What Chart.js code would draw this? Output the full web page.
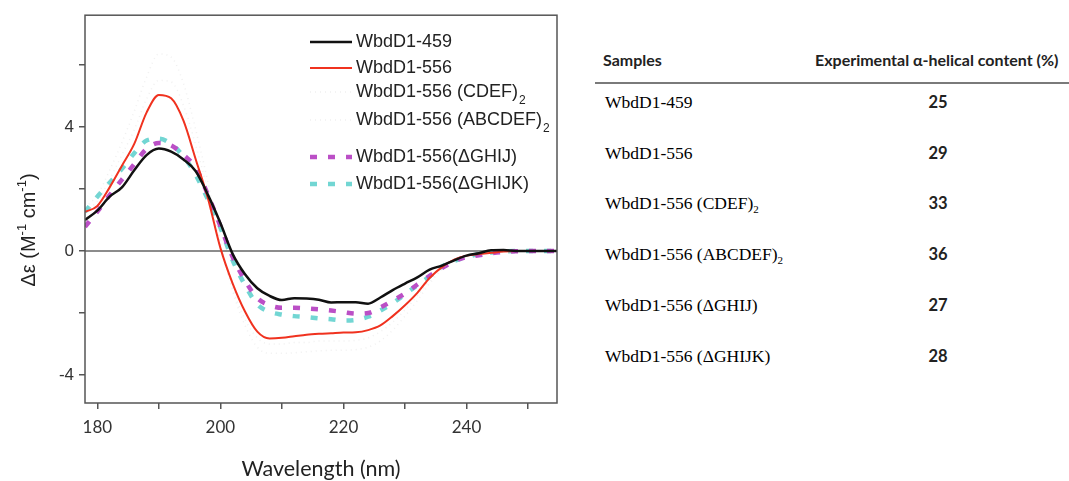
<!DOCTYPE html>
<html>
<head>
<meta charset="utf-8">
<script src="https://cdn.jsdelivr.net/npm/chart.js@4.4.0/dist/chart.umd.min.js"></script>
<style>
    body { margin: 0; background: #fff; width: 1069px; height: 481px; overflow: hidden; position: relative; }
    #chartBox { position: absolute; left: 0; top: 0; width: 580px; height: 481px; }
    .hdr { position: absolute; font-family: Lato, sans-serif; font-weight: 700; font-size: 16px; color: #222; line-height: 20px; top: 50px; white-space: nowrap; }
    #rule { position: absolute; left: 595px; top: 82px; width: 474px; height: 2px; background: #7a7a7a; }
    .sample { position: absolute; left: 605px; font-family: "Liberation Serif", serif; font-size: 17.5px; color: #000; line-height: 20px; white-space: nowrap; }
    .sample sub { font-size: 11px; vertical-align: -4px; line-height: 0; }
    .value { position: absolute; left: 908px; width: 60px; text-align: center; font-family: Lato, sans-serif; font-weight: 700; font-size: 16.5px; color: #222; line-height: 20px; }
</style>
</head>
<body>
<div id="chartBox"><canvas id="cdChart" width="580" height="481"></canvas></div>
<div class="hdr" style="left:603px">Samples</div>
<div class="hdr" style="left:815px">Experimental α-helical content (%)</div>
<div id="rule"></div>
<div id="tableRows"></div>
<script>
// wavelength grid (nm)
const wavelength = [178, 180, 182, 184, 186, 188, 190, 192, 194, 196, 198, 200, 202, 204, 206, 208, 210, 212, 214, 216, 218, 220, 222, 224, 226, 228, 230, 232, 234, 236, 238, 240, 242, 244, 246, 248, 250, 252, 254.7];

const seriesNames = ['WbdD1-459', 'WbdD1-556', 'WbdD1-556 (CDEF)₂', 'WbdD1-556 (ABCDEF)₂', 'WbdD1-556(ΔGHIJ)', 'WbdD1-556(ΔGHIJK)'];

const wbd459 = [1.0, 1.3, 1.75, 2.05, 2.6, 3.09, 3.3, 3.2, 2.95, 2.57, 1.8, 0.9, -0.1, -0.75, -1.2, -1.45, -1.58, -1.52, -1.53, -1.57, -1.66, -1.65, -1.65, -1.70, -1.50, -1.26, -1.05, -0.85, -0.6, -0.47, -0.3, -0.15, -0.07, 0.02, 0.03, 0, 0, 0, 0];
const wbd556 = [1.26, 1.45, 2.05, 2.75, 3.45, 4.46, 5.03, 4.92, 4.2, 2.95, 1.68, 0.1, -1.05, -1.95, -2.6, -2.82, -2.8, -2.75, -2.7, -2.67, -2.65, -2.63, -2.62, -2.55, -2.4, -2.1, -1.75, -1.35, -0.87, -0.52, -0.28, -0.15, -0.1, -0.06, -0.02, 0, 0, 0, 0];
const wbdCDEF = [1.3, 1.6, 2.3, 3.1, 3.9, 4.9, 5.5, 5.45, 4.7, 3.4, 1.9, 0.2, -1.2, -2.2, -2.8, -3.0, -3.0, -2.95, -2.95, -2.9, -2.9, -2.9, -2.88, -2.8, -2.6, -2.3, -1.9, -1.45, -0.95, -0.55, -0.3, -0.15, -0.1, -0.05, -0.02, 0, 0, 0, 0];
const wbdABCDEF = [1.4, 1.8, 2.6, 3.5, 4.5, 5.6, 6.35, 6.25, 5.4, 3.9, 2.2, 0.3, -1.3, -2.4, -3.1, -3.3, -3.3, -3.28, -3.25, -3.22, -3.2, -3.2, -3.18, -3.1, -2.9, -2.55, -2.1, -1.6, -1.05, -0.6, -0.32, -0.17, -0.1, -0.05, -0.02, 0, 0, 0, 0];
const wbdGHIJ = [0.78, 1.27, 1.8, 2.3, 2.8, 3.29, 3.48, 3.4, 3.1, 2.68, 1.8, 0.8, -0.2, -0.95, -1.52, -1.75, -1.83, -1.83, -1.85, -1.88, -1.92, -1.97, -2.02, -2.0, -1.82, -1.6, -1.37, -1.08, -0.8, -0.55, -0.33, -0.2, -0.14, -0.07, -0.03, -0.01, 0, 0, 0];
const wbdGHIJK = [1.26, 1.75, 2.2, 2.65, 3.15, 3.56, 3.62, 3.45, 3.05, 2.45, 1.65, 0.75, -0.3, -1.1, -1.72, -1.96, -2.05, -2.1, -2.13, -2.17, -2.2, -2.24, -2.22, -2.12, -1.92, -1.68, -1.4, -1.1, -0.82, -0.5, -0.32, -0.2, -0.1, -0.05, -0.02, 0, 0, 0, 0];

const xTickLabels = [180, 200, 220, 240];
const yTickLabels = [-4, 0, 4];

// table on the right
const tableSamples = ['WbdD1-459', 'WbdD1-556', 'WbdD1-556 (CDEF)₂', 'WbdD1-556 (ABCDEF)₂', 'WbdD1-556 (ΔGHIJ)', 'WbdD1-556 (ΔGHIJK)'];
const helicalContent = [25, 29, 33, 36, 27, 28];

const rowsEl = document.getElementById('tableRows');
tableSamples.forEach((s, i) => {
    const y = 92 + i * 50.7;
    const name = document.createElement('div');
    name.className = 'sample';
    name.style.top = y + 'px';
    name.innerHTML = s.replace('₂', '<sub>2</sub>');
    rowsEl.appendChild(name);
    const val = document.createElement('div');
    val.className = 'value';
    val.style.top = y + 'px';
    val.textContent = helicalContent[i];
    rowsEl.appendChild(val);
});

const allValues = [wbd459, wbd556, wbdCDEF, wbdABCDEF, wbdGHIJ, wbdGHIJK];
const styles = [
    { color: '#111111', width: 2.5, dash: [] },
    { color: '#f0321f', width: 2, dash: [] },
    { color: 'rgba(205,205,205,0.3)', width: 1.5, dash: [1, 4] },
    { color: 'rgba(205,205,205,0.3)', width: 1.5, dash: [1, 4] },
    { color: '#bb4fc6', width: 4.5, dash: [7, 11] },
    { color: '#72d6d3', width: 4.5, dash: [7, 11] }
];

const datasets = seriesNames.map((name, i) => ({
    label: name,
    data: wavelength.map((w, j) => ({ x: w, y: allValues[i][j] })),
    borderColor: styles[i].color,
    borderWidth: styles[i].width,
    borderDash: styles[i].dash,
    pointRadius: 0,
    fill: false,
    cubicInterpolationMode: 'monotone'
}));

// frame + zero line
const framePlugin = {
    id: 'frame',
    beforeDatasetsDraw(chart) {
        const { ctx, chartArea: a, scales } = chart;
        const y0 = scales.y.getPixelForValue(0);
        ctx.save();
        ctx.strokeStyle = '#666';
        ctx.lineWidth = 1.5;
        ctx.beginPath();
        ctx.moveTo(a.left, y0);
        ctx.lineTo(a.right, y0);
        ctx.stroke();
        ctx.restore();
    },
    afterDraw(chart) {
        const { ctx, chartArea: a } = chart;
        ctx.save();
        ctx.strokeStyle = '#555';
        ctx.lineWidth = 1.5;
        ctx.strokeRect(a.left, a.top, a.right - a.left, a.bottom - a.top);

        // axis titles
        ctx.fillStyle = '#222';
        ctx.textBaseline = 'middle';
        ctx.textAlign = 'center';
        ctx.font = '21.5px Lato, sans-serif';
        ctx.fillText('Wavelength (nm)', 321, 469);

        // y title with superscripts
        const parts = [['Δε (M', 0], ['-1', 1], [' cm', 0], ['-1', 1], [')', 0]];
        const big = '20px "Liberation Sans", Arial, sans-serif';
        const small = '13px "Liberation Sans", Arial, sans-serif';
        let total = 0;
        parts.forEach(p => { ctx.font = p[1] ? small : big; total += ctx.measureText(p[0]).width; });
        ctx.translate(29, 230);
        ctx.rotate(-Math.PI / 2);
        ctx.textAlign = 'left';
        let x = -total / 2;
        parts.forEach(p => {
            ctx.font = p[1] ? small : big;
            ctx.fillText(p[0], x, p[1] ? -7 : 0);
            x += ctx.measureText(p[0]).width;
        });
        ctx.restore();
    }
};

// legend inside the plot
const legendPlugin = {
    id: 'sampleLegend',
    afterDatasetsDraw(chart) {
        const ctx = chart.ctx;
        const rowsY = [42, 68, 92, 120, 157, 184];
        chart.data.datasets.forEach((ds, i) => {
            const y = rowsY[i];
            ctx.save();
            ctx.strokeStyle = ds.borderColor;
            ctx.lineWidth = ds.borderWidth;
            ctx.setLineDash(ds.borderDash || []);
            ctx.beginPath();
            ctx.moveTo(310, y);
            ctx.lineTo(352, y);
            ctx.stroke();
            ctx.setLineDash([]);
            ctx.fillStyle = '#222';
            ctx.textBaseline = 'middle';
            ctx.font = '18px "Liberation Sans", Arial, sans-serif';
            let txt = ds.label;
            let sub = '';
            if (txt.endsWith('₂')) { sub = '2'; txt = txt.slice(0, -1); }
            ctx.fillText(txt, 356, y);
            if (sub) {
                const w = ctx.measureText(txt).width;
                ctx.font = '12px "Liberation Sans", Arial, sans-serif';
                ctx.fillText(sub, 357 + w, y + 9);
            }
            ctx.restore();
        });
    }
};

new Chart(document.getElementById('cdChart').getContext('2d'), {
    type: 'line',
    data: { datasets: datasets },
    options: {
        responsive: false,
        animation: false,
        layout: { padding: { left: 0, top: 13, right: 23, bottom: 0 } },
        plugins: { legend: { display: false }, tooltip: { enabled: false } },
        scales: {
            x: {
                type: 'linear',
                min: 178,
                max: 254.7,
                border: { display: false },
                grid: { drawOnChartArea: false, drawTicks: true, tickLength: 6, color: '#555', lineWidth: 1.5 },
                ticks: {
                    stepSize: 10,
                    includeBounds: false,
                    maxRotation: 0,
                    autoSkip: false,
                    padding: 8,
                    color: '#333',
                    font: { family: 'Lato, sans-serif', size: 17 },
                    callback: (v) => xTickLabels.includes(v) ? String(v) : ''
                },
                afterFit: (s) => { s.height = 78; }
            },
            y: {
                min: -4.9,
                max: 7.6,
                border: { display: false },
                grid: { drawOnChartArea: false, drawTicks: true, tickLength: 6, color: '#555', lineWidth: 1.5 },
                ticks: {
                    stepSize: 2,
                    includeBounds: false,
                    autoSkip: false,
                    padding: 5,
                    color: '#333',
                    font: { family: '"Liberation Sans", Arial, sans-serif', size: 17 },
                    callback: (v) => yTickLabels.includes(v) ? String(v) : ''
                },
                afterFit: (s) => { s.width = 85; }
            }
        }
    },
    plugins: [framePlugin, legendPlugin]
});
</script>
</body>
</html>
